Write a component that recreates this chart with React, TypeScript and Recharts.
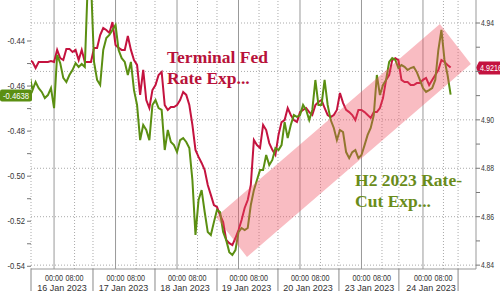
import React from 'react';
import {
  ComposedChart,
  Line,
  Area,
  XAxis,
  YAxis,
  ReferenceLine,
  ReferenceDot,
} from 'recharts';

// H2 2023 rate-cut expectation (left axis), one sample every 1.2 trading hours
const cutExp = [
  -0.4551, -0.4618, -0.4582, -0.4609, -0.4626, -0.4653, -0.464, -0.4609, -0.4698, -0.4462,
  -0.4498, -0.4564, -0.4582, -0.4551, -0.4529, -0.4498, -0.4515, -0.4502, -0.4515, -0.4129,
  -0.4129, -0.4493, -0.4573, -0.4595, -0.444, -0.4387, -0.4373, -0.4351, -0.4329, -0.444,
  -0.4476, -0.4493, -0.4551, -0.4493, -0.4618, -0.4684, -0.484, -0.4773, -0.4795, -0.484,
  -0.4684, -0.4662, -0.4698, -0.4706, -0.4884, -0.4795, -0.4848, -0.4862, -0.4893, -0.484,
  -0.4831, -0.4848, -0.4875, -0.5017, -0.5261, -0.5106, -0.5062, -0.5159, -0.5248, -0.5261,
  -0.5204, -0.515, -0.5159, -0.5248, -0.5284, -0.5337, -0.535, -0.5328, -0.5248, -0.523,
  -0.5239, -0.523, -0.5128, -0.5062, -0.5017, -0.4973, -0.4973, -0.4906, -0.4951, -0.4928,
  -0.4875, -0.4884, -0.4862, -0.476, -0.4831, -0.4773, -0.4729, -0.4737, -0.4729, -0.4684,
  -0.4706, -0.4751, -0.4706, -0.4573, -0.4684, -0.4684, -0.4573, -0.4684, -0.4751, -0.4786,
  -0.484, -0.4795, -0.4804, -0.4893, -0.492, -0.4893, -0.4884, -0.492, -0.4906, -0.4862,
  -0.4817, -0.4786, -0.4729, -0.4551, -0.464, -0.4595, -0.4573, -0.4493, -0.4476, -0.4484,
  -0.452, -0.4507, -0.4515, -0.4529, -0.452, -0.4515, -0.4538, -0.4573, -0.4609, -0.4626,
  -0.4618, -0.4609, -0.4573, -0.444, -0.4351, -0.4484, -0.4551, -0.4638,
];

// terminal Fed rate expectation (right axis), same samples
const terminalExp = [
  4.9247, 4.9239, 4.9214, 4.9239, 4.9239, 4.9239, 4.9239, 4.9243, 4.9239, 4.9289,
  4.9255, 4.9247, 4.9293, 4.9293, 4.928, 4.9289, 4.9247, 4.9289, 4.9239, 4.9239,
  4.9239, 4.9297, 4.9297, 4.935, 4.9379, 4.9371, 4.9359, 4.9404, 4.9309, 4.9297,
  4.9289, 4.9289, 4.9346, 4.9289, 4.9247, 4.9227, 4.9103, 4.9206, 4.9082, 4.9049,
  4.9123, 4.9144, 4.9185, 4.9198, 4.9061, 4.9041, 4.9053, 4.9053, 4.9061, 4.9082,
  4.9115, 4.9103, 4.9061, 4.8979, 4.8876, 4.8847, 4.8822, 4.8793, 4.8731, 4.869,
  4.8648, 4.864, 4.8607, 4.8578, 4.8504, 4.8491, 4.8483, 4.8512, 4.8545, 4.8586,
  4.8636, 4.8669, 4.8731, 4.8917, 4.8896, 4.8884, 4.8979, 4.8958, 4.8904, 4.8876,
  4.8855, 4.8937, 4.8991, 4.8999, 4.9049, 4.902, 4.8999, 4.8991, 4.9032, 4.9041,
  4.9049, 4.9032, 4.902, 4.9061, 4.9074, 4.9082, 4.9049, 4.902, 4.9012, 4.902,
  4.9041, 4.9111, 4.907, 4.9041, 4.9032, 4.902, 4.8999, 4.9041, 4.9041, 4.9032,
  4.902, 4.9008, 4.9032, 4.9032, 4.9049, 4.909, 4.9165, 4.9185, 4.9247, 4.9255,
  4.9247, 4.9165, 4.9156, 4.9156, 4.9144, 4.9144, 4.9152, 4.9152, 4.9165, 4.9173,
  4.9144, 4.9165, 4.9185, 4.9206, 4.9247, 4.9239, 4.9227, 4.9216,
];

// hours from 16 Jan 00:00, weekend removed
const sampleStart = -9.6;
const sampleStep = 1.2;

const dayStarts = [0, 24, 48, 72, 96, 120, 144];
const dayLabels = ['16 Jan 2023', '17 Jan 2023', '18 Jan 2023', '19 Jan 2023', '20 Jan 2023', '23 Jan 2023', '24 Jan 2023'];
const morningTicks = [8, 32, 56, 80, 104, 128, 152];
const sessionBreaks = [-9, 15.2, 39.4, 63.6, 87.4, 111.2, 134.6, 157.7];

const leftTicks = [-0.54, -0.53, -0.52, -0.51, -0.5, -0.49, -0.48, -0.47, -0.46, -0.45, -0.44];
const rightTicks = [4.84, 4.85, 4.86, 4.87, 4.88, 4.89, 4.9, 4.91, 4.92, 4.93, 4.94];
const rightGrid = [4.84, 4.86, 4.88, 4.9, 4.92, 4.94];

// trend channel corners [hour, terminal rate]: left, bottom, right, top
const chLeft = [63.2, 4.8599];
const chBottom = [75.3, 4.8434];
const chRight = [162.7, 4.9231];
const chTop = [150.6, 4.9396];

const lastCut = -0.4638;
const lastTerminal = 4.9216;

const data = cutExp.map((v, i) => ({
  hour: sampleStart + sampleStep * i,
  cut: v,
  terminal: terminalExp[i],
}));

// channel outline as a range area: lower edge left-bottom-right, upper edge left-top-right
const onEdge = (p: number[], q: number[], h: number) => p[1] + ((h - p[0]) / (q[0] - p[0])) * (q[1] - p[1]);
const channelData = [
  { hour: chLeft[0], band: [chLeft[1], chLeft[1]] },
  { hour: chBottom[0], band: [chBottom[1], onEdge(chLeft, chTop, chBottom[0])] },
  { hour: chTop[0], band: [onEdge(chBottom, chRight, chTop[0]), chTop[1]] },
  { hour: chRight[0], band: [chRight[1], chRight[1]] },
];

const GREEN = '#5b8f12';
const RED = '#c4133f';
const AXIS_FONT = '"Liberation Sans", Arial, sans-serif';

const TimeTick = ({ x, y, payload }: any) => {
  const v = payload.value;
  const dayIdx = dayStarts.indexOf(v);
  if (dayIdx >= 0) {
    return (
      <g>
        <text x={x} y={y + 12} textAnchor="middle" fontSize={9} fontFamily={AXIS_FONT} fill="#333"
          transform={`translate(${x * 0.2},0) scale(0.8,1)`}>
          00:00
        </text>
        <text x={x + 8} y={y + 21.5} textAnchor="middle" fontSize={9} fontFamily={AXIS_FONT} fill="#333">
          {dayLabels[dayIdx]}
        </text>
      </g>
    );
  }
  if (morningTicks.includes(v)) {
    return (
      <text x={x} y={y + 12} textAnchor="middle" fontSize={9} fontFamily={AXIS_FONT} fill="#333"
        transform={`translate(${x * 0.2},0) scale(0.8,1)`}>
        08:00
      </text>
    );
  }
  return <line x1={x} x2={x} y1={y} y2={y + 22} stroke="#888" strokeWidth={1} />;
};

const LeftTick = ({ x, y, payload }: any) => {
  const v = payload.value;
  if (Math.round(v * 100) % 2 !== 0) return null;
  return (
    <text x={x} y={y} dy={3} textAnchor="end" fontSize={9} fontFamily={AXIS_FONT} fill="#333"
      transform={`translate(${x * 0.15},0) scale(0.85,1)`}>
      {v.toFixed(2)}
    </text>
  );
};

const RightTick = ({ x, y, payload }: any) => {
  const v = payload.value;
  if (Math.round(v * 100) % 2 !== 0) return null;
  // the last-value tag sits over the 4.92 label
  if (Math.abs(v - lastTerminal) < 0.005) return null;
  return (
    <text x={x} y={y} dy={3} textAnchor="start" fontSize={9} fontFamily={AXIS_FONT} fill="#333"
      transform={`translate(${x * 0.25},0) scale(0.75,1)`}>
      {v.toFixed(2)}
    </text>
  );
};

const LeftTag = ({ viewBox }: any) => {
  const { x, y } = viewBox;
  return (
    <g>
      <rect x={x - 31} y={y - 5} width={32} height={12} rx={2} fill={GREEN} />
      <text x={x - 15} y={y + 4} textAnchor="middle" fontSize={9} fontFamily={AXIS_FONT} fill="#fff"
        transform={`translate(${(x - 15) * 0.15},0) scale(0.85,1)`}>
        {lastCut.toFixed(4)}
      </text>
    </g>
  );
};

const RightTag = ({ viewBox }: any) => {
  const { x, y, width } = viewBox;
  const rx = x + width;
  return (
    <g>
      <path d={`M${rx} ${y} L${rx + 3} ${y - 6} L${rx + 30} ${y - 6} L${rx + 30} ${y + 7} L${rx + 3} ${y + 7} Z`} fill={RED} />
      <text x={rx + 4} y={y + 3.5} textAnchor="start" fontSize={9} fontFamily={AXIS_FONT} fill="#fff"
        transform={`translate(${(rx + 4) * 0.2},0) scale(0.8,1)`}>
        {lastTerminal.toFixed(4)}
      </text>
    </g>
  );
};

const Note = ({ cx, cy, lines, color }: any) => (
  <text x={cx} y={cy} fontSize={17.5} fontWeight="bold" fontFamily='"Liberation Serif", "Times New Roman", serif' fill={color}>
    {lines.map((l: string, i: number) => (
      <tspan key={i} x={cx} dy={i === 0 ? 0 : 21}>
        {l}
      </tspan>
    ))}
  </text>
);

export default function App() {
  return (
    <div style={{ position: 'absolute', left: 0, top: 0, width: 500, height: 291, background: '#fff' }}>
      <ComposedChart width={500} height={291} data={data} margin={{ top: 0, right: 0, bottom: 0, left: 0 }}>
        <XAxis
          dataKey="hour"
          type="number"
          domain={[-9, 164.7]}
          allowDataOverflow
          ticks={[...dayStarts, ...morningTicks, ...sessionBreaks]}
          interval={0}
          tickSize={0}
          tickMargin={0}
          tickLine={false}
          axisLine={{ stroke: '#999' }}
          height={22}
          tick={<TimeTick />}
        />
        <YAxis
          yAxisId="left"
          orientation="left"
          width={31}
          domain={[-0.5412, -0.4218]}
          allowDataOverflow
          ticks={leftTicks}
          interval={0}
          axisLine={false}
          tickLine={{ stroke: '#777' }}
          tickSize={4}
          tickMargin={2}
          tick={<LeftTick />}
        />
        <YAxis
          yAxisId="right"
          orientation="right"
          width={24}
          domain={[4.8384, 4.9495]}
          allowDataOverflow
          ticks={rightTicks}
          interval={0}
          axisLine={{ stroke: '#999' }}
          tickLine={{ stroke: '#777' }}
          tickSize={4}
          tickMargin={1}
          tick={<RightTick />}
        />

        {/* grid */}
        {rightGrid.map((v) => (
          <ReferenceLine key={'h' + v} yAxisId="right" y={v} stroke="#aaa" strokeDasharray="1 2" />
        ))}
        {[...morningTicks, ...sessionBreaks].map((h) => (
          <ReferenceLine key={'v' + h} yAxisId="right" x={h} stroke="#aaa" strokeDasharray="1 2" />
        ))}
        {dayStarts.map((h) => (
          <ReferenceLine key={'d' + h} yAxisId="right" x={h} stroke="#999" />
        ))}

        <Line yAxisId="right" dataKey="terminal" stroke={RED} strokeWidth={2} dot={false} activeDot={false} type="linear" isAnimationActive={false} />
        <Line yAxisId="left" dataKey="cut" stroke={GREEN} strokeWidth={2} dot={false} activeDot={false} type="linear" isAnimationActive={false} />

        {/* trend channel, drawn over the lines */}
        <Area
          yAxisId="right"
          data={channelData}
          dataKey="band"
          type="linear"
          stroke="none"
          fill="#f0505f"
          fillOpacity={0.38}
          activeDot={false}
          isAnimationActive={false}
          {...({ zIndex: 550 } as any)}
        />

        <ReferenceDot
          yAxisId="right"
          x={44.1}
          y={4.9235}
          r={0}
          shape={(p: any) => <Note {...p} lines={['Terminal Fed', 'Rate Exp...']} color="#b8123a" />}
        />
        <ReferenceDot
          yAxisId="right"
          x={117.5}
          y={4.8727}
          r={0}
          shape={(p: any) => <Note {...p} lines={['H2 2023 Rate-', 'Cut Exp...']} color="#6a8c1a" />}
        />

        <ReferenceLine yAxisId="left" y={lastCut} stroke="none" label={<LeftTag />} />
        <ReferenceLine yAxisId="right" y={lastTerminal} stroke="none" label={<RightTag />} />
      </ComposedChart>
    </div>
  );
}
